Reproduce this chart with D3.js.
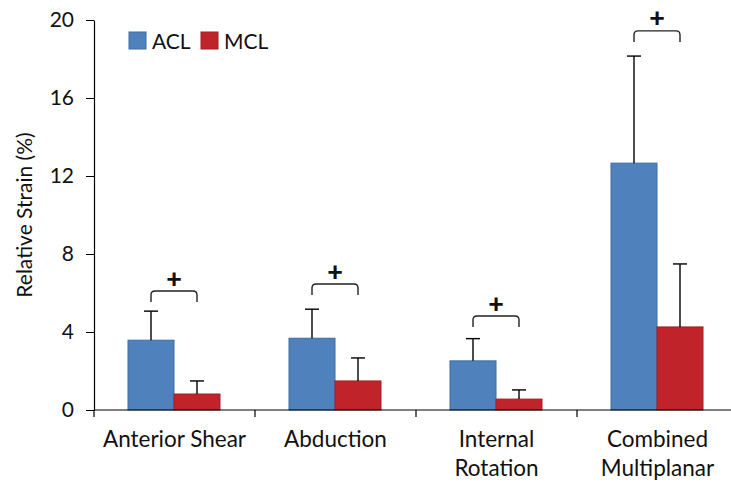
<!DOCTYPE html>
<html>
<head>
<meta charset="utf-8">
<script src="https://cdn.jsdelivr.net/npm/d3@7"></script>
<style>
  body { margin: 0; background: #fff; }
  text { font-family: Lato, "Open Sans", sans-serif; fill: #111; }
</style>
</head>
<body>
<svg id="chart"></svg>
<script>
const width = 731;
const height = 485;

const categories = [['Anterior Shear'], ['Abduction'], ['Internal', 'Rotation'], ['Combined', 'Multiplanar']];
const series = ['ACL', 'MCL'];
const aclMeans = [3.58, 3.68, 2.52, 12.66];
const aclErr = [5.07, 5.17, 3.66, 18.15];
const mclMeans = [0.82, 1.49, 0.56, 4.26];
const mclErr = [1.49, 2.67, 1.03, 7.49];
const bracketTop = [6.1, 6.46, 4.82, 19.44];
const yTicks = [0, 4, 8, 12, 16, 20];

const colors = ['#4F81BD', '#C0232A'];
const strokes = ['#3D6CA3', '#A51E24'];

const svg = d3.select('#chart').attr('width', width).attr('height', height);

const x0 = d3.scaleBand().domain(d3.range(categories.length)).range([94, 738]);
const x1 = d3.scaleBand().domain(series).range([34, x0.bandwidth() - 35]);
const y = d3.scaleLinear().domain([0, 20]).range([410, 20]);

const groups = series.map((s, i) => ({
    name: s,
    means: i === 0 ? aclMeans : mclMeans,
    err: i === 0 ? aclErr : mclErr
}));

// bars
groups.forEach((g, gi) => {
    svg.append('g').selectAll('rect')
        .data(g.means)
        .enter()
        .append('rect')
        .attr('x', (d, i) => x0(i) + x1(g.name))
        .attr('y', d => y(d))
        .attr('width', x1.bandwidth())
        .attr('height', d => y(0) - y(d))
        .style('fill', colors[gi])
        .style('stroke', strokes[gi])
        .style('stroke-width', 1);
});

// error bars
groups.forEach(g => {
    const eb = svg.append('g').style('stroke', '#000').style('stroke-width', 1.4);
    g.means.forEach((m, i) => {
        const cx = x0(i) + x1(g.name) + x1.bandwidth() / 2;
        eb.append('line').attr('x1', cx).attr('x2', cx).attr('y1', y(m)).attr('y2', y(g.err[i]));
        eb.append('line').attr('x1', cx - 7).attr('x2', cx + 7).attr('y1', y(g.err[i])).attr('y2', y(g.err[i]));
    });
});

// significance brackets
bracketTop.forEach((v, i) => {
    const xa = x0(i) + x1('ACL') + x1.bandwidth() / 2;
    const xb = x0(i) + x1('MCL') + x1.bandwidth() / 2;
    const top = y(v);
    const r = 4;
    svg.append('path')
        .attr('d', `M${xa},${top + 11} L${xa},${top + r} Q${xa},${top} ${xa + r},${top} L${xb - r},${top} Q${xb},${top} ${xb},${top + r} L${xb},${top + 11}`)
        .style('fill', 'none')
        .style('stroke', '#222')
        .style('stroke-width', 1.4);
    svg.append('text')
        .attr('x', (xa + xb) / 2)
        .attr('y', top - 14)
        .attr('text-anchor', 'middle')
        .attr('dominant-baseline', 'central')
        .style('font-size', '27px')
        .style('font-weight', '900')
        .text('+');
});

// y axis
const yAxis = svg.append('g')
    .attr('transform', 'translate(94,0)')
    .call(d3.axisLeft(y).tickValues(yTicks).tickSize(8).tickSizeOuter(0).tickPadding(12));
yAxis.selectAll('text').style('font-size', '21px').style('font-family', 'Lato, sans-serif').style('fill', '#111');
yAxis.select('.domain').attr('stroke-width', 1.2);

// x axis
const xAxis = svg.append('g').attr('transform', `translate(0,${y(0)})`);
xAxis.append('line').attr('x1', 94).attr('x2', 738).attr('y1', 0).attr('y2', 0)
    .style('stroke', '#000').style('stroke-width', 1.2);
xAxis.selectAll('line.tick')
    .data(d3.range(categories.length))
    .enter()
    .append('line')
    .attr('class', 'tick')
    .attr('x1', d => x0(d)).attr('x2', d => x0(d))
    .attr('y1', 0).attr('y2', 7)
    .style('stroke', '#000').style('stroke-width', 1.2);

categories.forEach((lines, i) => {
    const t = xAxis.append('text')
        .attr('text-anchor', 'middle')
        .style('font-size', '22.5px');
    lines.forEach((l, li) => {
        t.append('tspan')
            .attr('x', x0(i) + x0.bandwidth() / 2)
            .attr('y', 37 + li * 29)
            .text(l);
    });
});

// y label
svg.append('text')
    .attr('transform', 'translate(32,215) rotate(-90)')
    .attr('text-anchor', 'middle')
    .style('font-size', '21px')
    .text('Relative Strain (%)');

// legend
const legend = svg.append('g');
series.forEach((s, i) => {
    const lx = [129, 201][i];
    legend.append('rect')
        .attr('x', lx).attr('y', 32).attr('width', 17).attr('height', 17)
        .style('fill', colors[i]).style('stroke', strokes[i]);
    legend.append('text')
        .attr('x', lx + 23).attr('y', 49)
        .style('font-size', '21px')
        .text(s);
});
</script>
</body>
</html>
